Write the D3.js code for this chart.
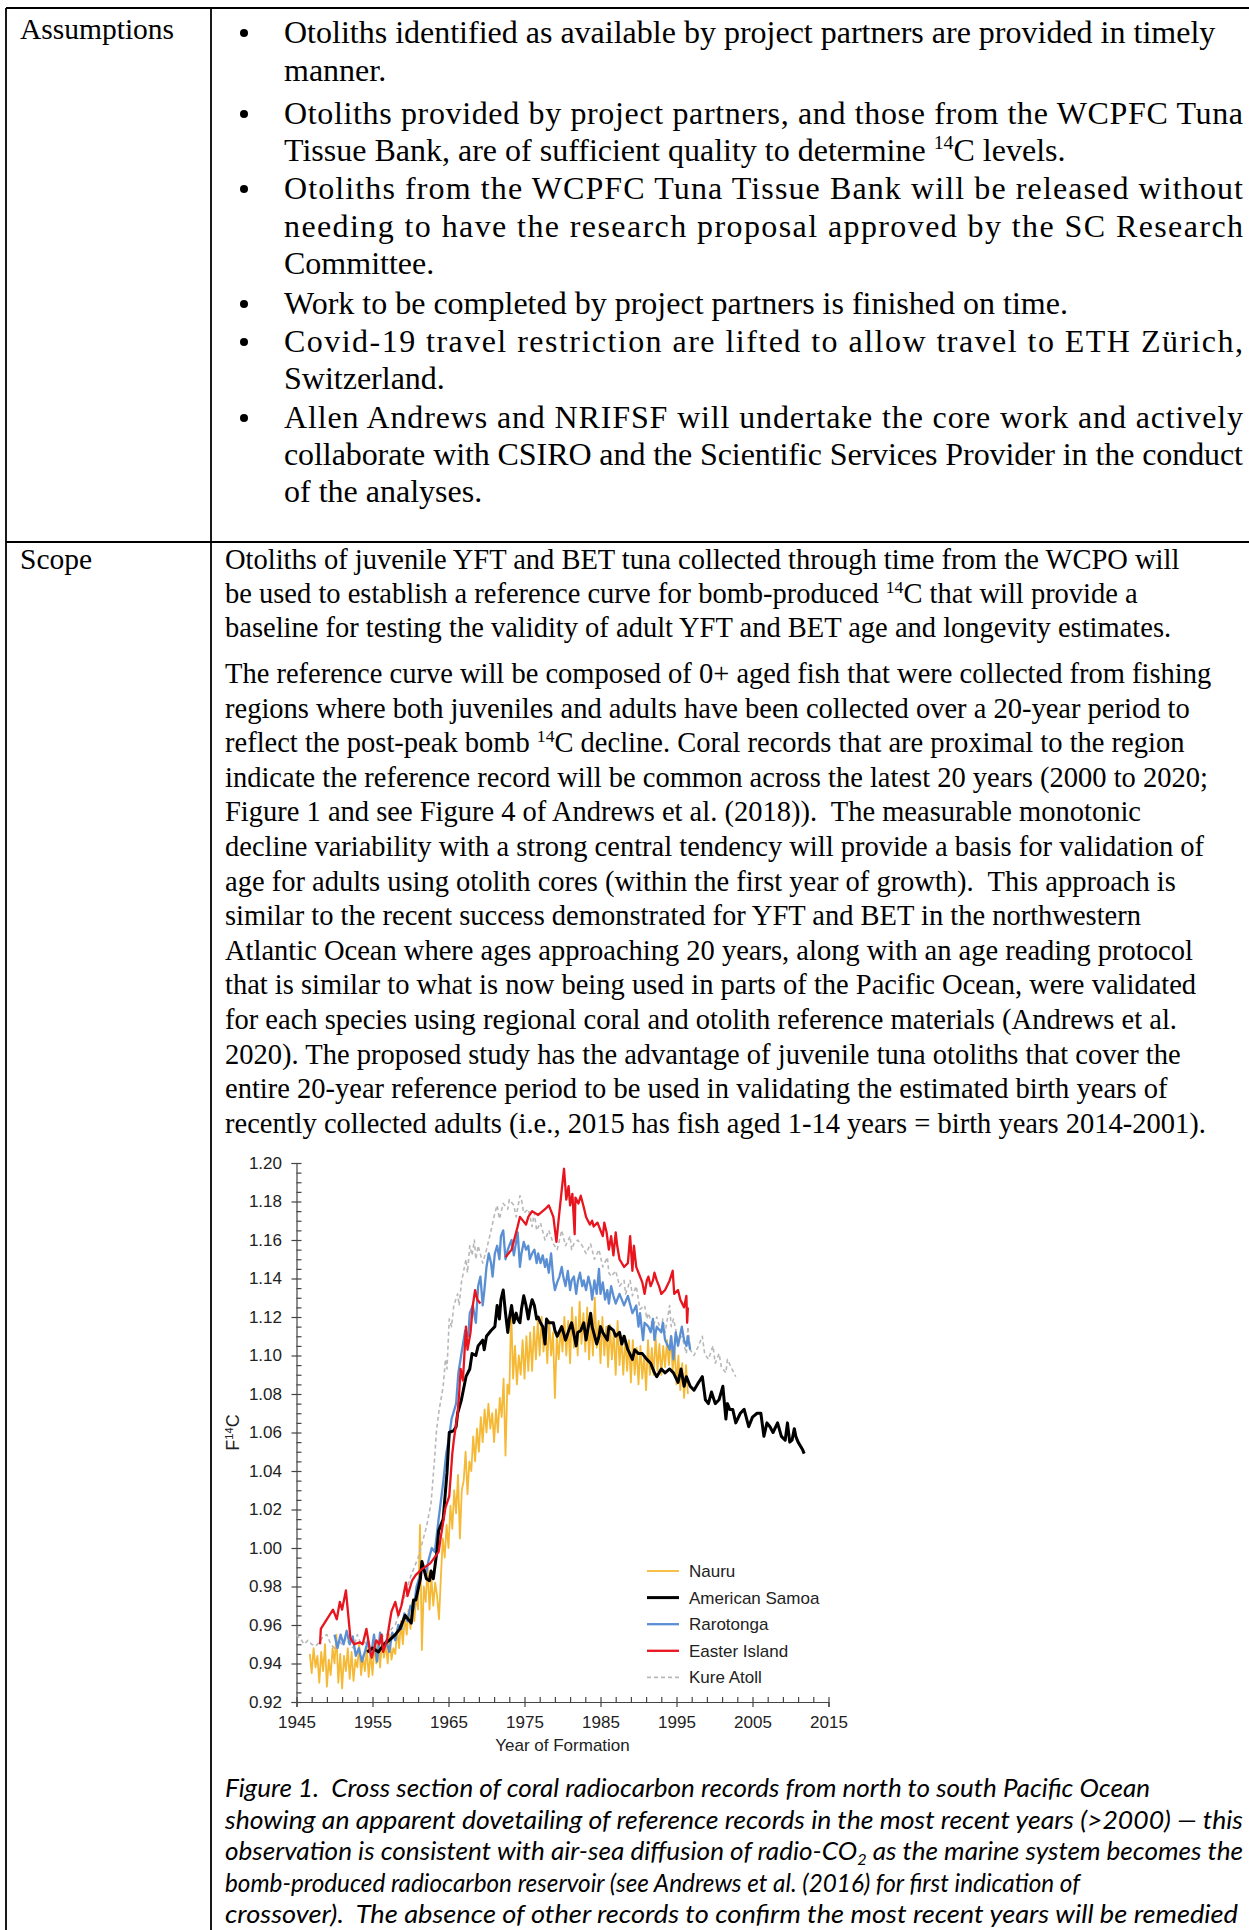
<!DOCTYPE html>
<html>
<head>
<meta charset="utf-8">
<title>Assumptions / Scope - coral radiocarbon</title>
<script src="https://d3js.org/d3.v7.min.js"></script>
<style>
  body { margin: 0; background: #fff; }
  svg text { fill: #000; white-space: pre; }
  .body-text { font-family: "Liberation Serif", "Times New Roman", serif; }
  .caption { font-family: Lato, "Open Sans", sans-serif; font-style: italic; font-size: 25px; }
  .axis text, .chart-label { font-family: "Liberation Sans", Arial, sans-serif; font-size: 17px; fill: #222; }
  .axis path, .axis line { stroke: #444; stroke-width: 1.2px; }
  .rule { stroke: #000; stroke-width: 1.8px; }
</style>
</head>
<body>
<svg id="page" width="1249" height="1930"></svg>
<script>
// ---- text content ----
const assumptionLines = [
  "Otoliths identified as available by project partners are provided in timely",
  "manner.",
  "Otoliths provided by project partners, and those from the WCPFC Tuna",
  "Tissue Bank, are of sufficient quality to determine ^14^C levels.",
  "Otoliths from the WCPFC Tuna Tissue Bank will be released without",
  "needing to have the research proposal approved by the SC Research",
  "Committee.",
  "Work to be completed by project partners is finished on time.",
  "Covid-19 travel restriction are lifted to allow travel to ETH Zürich,",
  "Switzerland.",
  "Allen Andrews and NRIFSF will undertake the core work and actively",
  "collaborate with CSIRO and the Scientific Services Provider in the conduct",
  "of the analyses."
];
const bulletStarts = [0, 2, 4, 7, 8, 10];
const justifiedLines = [2, 4, 5, 8, 10, 11];
const assumptionBaselines = [43, 81, 124, 161, 199, 237, 274, 314, 352, 389, 428, 465, 502];

const scopePara1 = [
  "Otoliths of juvenile YFT and BET tuna collected through time from the WCPO will",
  "be used to establish a reference curve for bomb-produced ^14^C that will provide a",
  "baseline for testing the validity of adult YFT and BET age and longevity estimates."
];
const scopePara2 = [
  "The reference curve will be composed of 0+ aged fish that were collected from fishing",
  "regions where both juveniles and adults have been collected over a 20-year period to",
  "reflect the post-peak bomb ^14^C decline. Coral records that are proximal to the region",
  "indicate the reference record will be common across the latest 20 years (2000 to 2020;",
  "Figure 1 and see Figure 4 of Andrews et al. (2018)).  The measurable monotonic",
  "decline variability with a strong central tendency will provide a basis for validation of",
  "age for adults using otolith cores (within the first year of growth).  This approach is",
  "similar to the recent success demonstrated for YFT and BET in the northwestern",
  "Atlantic Ocean where ages approaching 20 years, along with an age reading protocol",
  "that is similar to what is now being used in parts of the Pacific Ocean, were validated",
  "for each species using regional coral and otolith reference materials (Andrews et al.",
  "2020). The proposed study has the advantage of juvenile tuna otoliths that cover the",
  "entire 20-year reference period to be used in validating the estimated birth years of",
  "recently collected adults (i.e., 2015 has fish aged 1-14 years = birth years 2014-2001)."
];
const captionLines = [
  "Figure 1.  Cross section of coral radiocarbon records from north to south Pacific Ocean",
  "showing an apparent dovetailing of reference records in the most recent years (>2000) \u2014 this",
  "observation is consistent with air-sea diffusion of radio-CO~2~ as the marine system becomes the",
  "bomb-produced radiocarbon reservoir (see Andrews et al. (2016) for first indication of",
  "crossover).  The absence of other records to confirm the most recent years will be remedied"
];
const captionRightEdges = [1150, 1243, 1243, 1080, 1238];

// ---- chart data (year, F14C) ----
const seriesNames = ["Nauru", "American Samoa", "Rarotonga", "Easter Island", "Kure Atoll"];
const xTicks = [1945, 1955, 1965, 1975, 1985, 1995, 2005, 2015];
const yTicks = [0.92, 0.94, 0.96, 0.98, 1.00, 1.02, 1.04, 1.06, 1.08, 1.10, 1.12, 1.14, 1.16, 1.18, 1.20];

// Nauru: quarterly samples starting 1946.75
const nauruStart = 1946.75, nauruStep = 0.25;
const nauruValues = [
  0.945,
  0.935, 0.948, 0.938, 0.944,  0.930, 0.946, 0.936, 0.950,  0.928, 0.942, 0.934, 0.948,
  0.940, 0.955, 0.930, 0.945,  0.927, 0.944, 0.936, 0.948,  0.932, 0.946, 0.931, 0.942,
  0.938, 0.950, 0.934, 0.944,  0.936, 0.948, 0.933, 0.946,  0.934, 0.950, 0.940, 0.952,
  0.938, 0.952, 0.943, 0.950,  0.940, 0.955, 0.942, 0.948,  0.945, 0.958, 0.948, 0.962,
  0.950, 0.965, 0.955, 0.968,  0.958, 0.972, 0.962, 0.975,  0.968, 1.012, 0.947, 0.980,
  0.972, 0.990, 0.968, 0.985,  0.970, 0.982, 0.975, 0.963,  0.985, 1.005, 0.995, 1.012,
  1.000, 1.022, 1.010, 1.030,  1.018, 1.038, 1.005, 1.030,  1.035, 1.050, 1.028, 1.045,
  1.040, 1.058, 1.045, 1.062,  1.050, 1.068, 1.055, 1.072,  1.060, 1.075, 1.062, 1.070,
  1.055, 1.072, 1.060, 1.078,  1.068, 1.088, 1.048, 1.085,  1.080, 1.124, 1.088, 1.105,
  1.085, 1.100, 1.090, 1.108,  1.088, 1.110, 1.092, 1.112,  1.092, 1.115, 1.098, 1.118,
  1.100, 1.120, 1.102, 1.115,  1.096, 1.118, 1.100, 1.112,  1.078, 1.110, 1.098, 1.115,
  1.102, 1.120, 1.100, 1.118,  1.096, 1.125, 1.104, 1.120,  1.100, 1.128, 1.106, 1.122,
  1.102, 1.125, 1.098, 1.120,  1.100, 1.130, 1.104, 1.118,  1.096, 1.120, 1.100, 1.115,
  1.094, 1.116, 1.098, 1.112,  1.090, 1.118, 1.095, 1.110,  1.090, 1.110, 1.092, 1.108,
  1.086, 1.108, 1.090, 1.104,  1.085, 1.105, 1.088, 1.100,  1.082, 1.108, 1.090, 1.104,
  1.090, 1.110, 1.092, 1.106,  1.090, 1.105, 1.094, 1.108,  1.095, 1.110, 1.092, 1.104,
  1.085, 1.100, 1.082, 1.096,  1.078, 1.095, 1.080
];

const americanSamoa = [
  [1954.3,0.946],[1955.0,0.948],[1955.8,0.946],[1956.5,0.950],[1957.2,0.952],[1958.0,0.955],[1958.6,0.958],
  [1959.3,0.965],[1960.1,0.961],[1960.4,0.973],[1960.7,0.973],[1961.3,0.984],[1961.5,0.993],[1962.1,0.984],
  [1962.5,0.983],[1962.7,0.988],[1963.0,0.984],[1963.5,0.999],[1963.7,1.009],[1964.3,1.015],[1964.8,1.039],
  [1965.1,1.060],[1965.7,1.061],[1966.0,1.063],[1966.2,1.070],[1966.7,1.077],[1967.3,1.089],[1967.8,1.093],
  [1968.1,1.101],[1968.6,1.100],[1968.9,1.105],[1969.5,1.108],[1969.7,1.103],[1970.0,1.110],[1970.6,1.113],
  [1971.1,1.115],[1971.4,1.126],[1971.7,1.119],[1971.9,1.129],[1972.2,1.134],[1972.5,1.122],[1972.8,1.112],
  [1973.0,1.119],[1973.3,1.126],[1973.6,1.117],[1973.9,1.122],[1974.1,1.119],[1974.4,1.117],[1974.6,1.124],
  [1974.9,1.131],[1975.2,1.126],[1975.5,1.119],[1975.7,1.124],[1976.0,1.129],[1976.3,1.126],[1976.6,1.119],
  [1976.8,1.120],[1977.1,1.117],[1977.4,1.115],[1977.7,1.106],[1977.9,1.119],[1978.2,1.117],[1978.8,1.117],
  [1979.0,1.113],[1979.3,1.110],[1979.9,1.115],[1980.4,1.108],[1981.0,1.115],[1981.2,1.117],[1981.8,1.105],
  [1982.0,1.112],[1982.4,1.113],[1982.8,1.117],[1983.1,1.108],[1983.7,1.122],[1983.9,1.115],[1984.5,1.106],
  [1984.8,1.110],[1985.0,1.115],[1985.3,1.112],[1985.9,1.108],[1986.1,1.115],[1986.7,1.113],[1987.0,1.110],
  [1987.5,1.112],[1987.8,1.106],[1988.1,1.110],[1988.6,1.103],[1989.2,1.098],[1989.5,1.103],[1990.0,1.101],
  [1990.5,1.101],[1991.1,1.098],[1991.6,1.096],[1992.1,1.091],[1992.4,1.089],[1993.0,1.093],[1993.5,1.091],
  [1994.1,1.093],[1994.6,1.091],[1995.2,1.086],[1995.6,1.093],[1996.0,1.084],[1996.3,1.089],[1996.8,1.084],
  [1997.3,1.082],[1997.9,1.086],[1998.4,1.089],[1998.8,1.077],[1999.2,1.075],[1999.6,1.081],[2000.1,1.075],
  [2000.6,1.077],[2001.1,1.084],[2001.5,1.067],[2001.7,1.075],[2002.0,1.072],[2002.4,1.072],[2002.8,1.065],
  [2003.4,1.070],[2003.9,1.072],[2004.5,1.063],[2005.0,1.068],[2005.6,1.070],[2006.1,1.070],[2006.5,1.058],
  [2006.9,1.065],[2007.3,1.063],[2007.7,1.060],[2008.3,1.065],[2008.8,1.058],[2009.3,1.056],[2009.6,1.065],
  [2009.9,1.055],[2010.2,1.056],[2010.5,1.062],[2010.7,1.058],[2011.0,1.055],[2011.6,1.051],[2011.8,1.049]
];

const rarotonga = [
  [1950.0,0.955],[1950.4,0.948],[1950.8,0.955],[1951.2,0.950],[1951.6,0.957],[1952.0,0.950],[1952.4,0.954],
  [1952.8,0.944],[1953.2,0.948],[1953.6,0.941],[1954.0,0.946],[1954.4,0.952],[1954.8,0.944],[1955.2,0.955],
  [1955.6,0.941],[1956.0,0.956],[1956.4,0.948],[1956.8,0.952],[1957.2,0.946],[1957.6,0.956],[1958.0,0.952],
  [1958.4,0.960],[1958.8,0.958],[1959.2,0.966],[1959.6,0.962],[1960.0,0.970],[1960.4,0.968],[1960.8,0.980],
  [1961.2,0.985],[1961.6,0.990],[1962.0,0.986],[1962.4,0.994],[1962.8,1.000],[1963.2,0.998],[1963.7,1.015],
  [1964.3,1.034],[1964.7,1.049],[1965.1,1.058],[1965.4,1.067],[1966.0,1.075],[1966.3,1.091],[1966.7,1.101],
  [1967.2,1.113],[1967.6,1.110],[1967.8,1.122],[1968.2,1.126],[1968.6,1.117],[1968.9,1.136],[1969.2,1.141],
  [1969.5,1.126],[1969.7,1.133],[1970.0,1.146],[1970.3,1.153],[1970.6,1.148],[1970.8,1.141],[1971.1,1.153],
  [1971.4,1.157],[1971.7,1.150],[1971.9,1.162],[1972.2,1.165],[1972.5,1.150],[1972.8,1.155],[1973.0,1.157],
  [1973.3,1.160],[1973.6,1.152],[1973.9,1.159],[1974.1,1.164],[1974.4,1.146],[1974.6,1.153],[1974.9,1.159],
  [1975.2,1.155],[1975.5,1.157],[1975.7,1.150],[1976.0,1.153],[1976.3,1.155],[1976.6,1.148],[1976.8,1.153],
  [1977.1,1.148],[1977.4,1.152],[1977.7,1.146],[1977.9,1.150],[1978.2,1.143],[1978.5,1.153],[1978.8,1.139],
  [1979.0,1.134],[1979.3,1.138],[1979.6,1.141],[1979.9,1.146],[1980.1,1.141],[1980.4,1.136],[1980.7,1.144],
  [1981.0,1.134],[1981.2,1.139],[1981.5,1.141],[1981.8,1.132],[1982.0,1.138],[1982.3,1.143],[1982.6,1.136],
  [1982.8,1.139],[1983.1,1.134],[1983.4,1.141],[1983.7,1.136],[1983.9,1.129],[1984.2,1.139],[1984.5,1.132],
  [1984.8,1.145],[1985.0,1.132],[1985.3,1.138],[1985.6,1.129],[1985.9,1.134],[1986.1,1.127],[1986.4,1.136],
  [1986.7,1.131],[1987.0,1.127],[1987.5,1.132],[1988.1,1.126],[1988.6,1.131],[1989.2,1.122],[1989.7,1.126],
  [1990.0,1.115],[1990.2,1.122],[1990.6,1.108],[1990.8,1.117],[1991.3,1.115],[1991.6,1.112],[1991.9,1.119],
  [1992.1,1.108],[1992.4,1.115],[1993.0,1.112],[1993.2,1.117],[1993.5,1.108],[1994.1,1.103],[1994.3,1.110],
  [1994.6,1.098],[1994.9,1.112],[1995.2,1.105],[1995.7,1.115],[1996.0,1.108],[1996.3,1.105],[1996.5,1.110],
  [1996.8,1.103]
];

const easterIsland = [
  [1948.1,0.950],[1948.2,0.958],[1949.8,0.968],[1950.3,0.963],[1950.7,0.972],[1951.0,0.968],[1951.5,0.978],
  [1952.1,0.953],[1952.6,0.950],[1953.3,0.951],[1953.7,0.950],[1954.2,0.958],[1954.7,0.946],[1954.9,0.943],
  [1955.5,0.952],[1955.9,0.950],[1956.2,0.955],[1956.4,0.946],[1956.9,0.952],[1957.2,0.960],[1957.5,0.967],
  [1958.0,0.972],[1958.4,0.965],[1958.8,0.970],[1959.4,0.982],[1959.6,0.975],[1960.2,0.983],[1960.7,0.986],
  [1961.5,0.989],[1962.6,0.992],[1963.7,0.998],[1964.0,1.006],[1964.6,1.021],[1965.1,1.027],[1965.5,1.049],
  [1965.7,1.056],[1966.2,1.070],[1966.4,1.080],[1966.6,1.093],[1966.9,1.087],[1967.3,1.115],[1967.5,1.103],
  [1967.9,1.112],[1968.2,1.126],[1968.5,1.134],[1968.8,1.129],[1969.2,1.127],[1970.8,null],
  [1972.5,1.151],[1973.3,1.155],[1974.1,1.167],[1974.4,1.172],[1975.2,1.168],[1975.5,1.172],[1976.0,1.175],
  [1976.8,1.173],[1977.7,1.176],[1978.2,1.178],[1978.8,1.172],[1979.2,1.159],[1979.5,1.171],[1979.9,1.186],
  [1980.2,1.197],[1980.5,1.181],[1980.8,1.188],[1981.0,1.178],[1981.3,1.184],[1981.6,1.163],[1981.7,1.182],
  [1982.1,1.179],[1982.4,1.183],[1982.8,1.177],[1983.1,1.172],[1983.6,1.168],[1983.9,1.170],[1984.1,1.167],
  [1984.6,1.169],[1985.0,1.165],[1985.3,1.162],[1985.5,1.169],[1985.8,1.164],[1986.1,1.155],[1986.4,1.162],
  [1986.7,1.152],[1987.0,1.164],[1987.2,1.157],[1987.5,1.150],[1988.1,1.146],[1988.6,1.148],[1988.9,1.162],
  [1989.2,1.144],[1989.4,1.157],[1989.7,1.146],[1990.0,1.143],[1990.5,1.138],[1990.8,1.132],[1991.1,1.139],
  [1991.3,1.141],[1991.6,1.136],[1991.9,1.139],[1992.1,1.143],[1992.4,1.139],[1992.7,1.136],[1993.0,1.132],
  [1993.5,1.134],[1994.1,1.139],[1994.5,1.144],[1994.7,1.132],[1995.2,1.134],[1995.5,1.129],[1996.0,1.125],
  [1996.3,1.131],[1996.4,1.117],[1996.5,1.125]
];

const kureAtoll = [
  [1945.0,0.955],[1945.5,0.953],[1946.0,0.950],[1946.5,0.952],[1947.0,0.950],[1947.5,0.949],[1948.0,0.951],
  [1948.5,0.954],[1949.0,0.955],[1949.5,0.950],[1950.0,0.948],[1950.5,0.952],[1951.0,0.950],[1951.5,0.953],
  [1952.0,0.950],[1952.5,0.948],[1953.0,0.955],[1953.5,0.950],[1954.0,0.951],[1954.5,0.948],[1955.0,0.947],
  [1955.5,0.950],[1956.0,0.952],[1956.5,0.955],[1957.0,0.955],[1957.5,0.958],[1958.0,0.960],[1958.5,0.966],
  [1959.0,0.972],[1959.5,0.978],[1960.0,0.985],[1960.5,0.990],[1961.0,0.995],[1961.5,1.002],[1962.1,1.011],
  [1962.7,1.023],[1963.2,1.048],[1963.4,1.060],[1963.7,1.070],[1964.3,1.084],[1964.6,1.098],[1964.8,1.093],
  [1965.1,1.119],[1965.4,1.115],[1965.7,1.126],[1966.2,1.132],[1966.4,1.126],[1966.7,1.138],[1967.3,1.150],
  [1967.5,1.143],[1967.8,1.157],[1968.1,1.152],[1968.4,1.160],[1968.6,1.150],[1968.9,1.157],[1969.5,1.148],
  [1970.0,1.155],[1970.6,1.165],[1971.1,1.174],[1971.4,1.178],[1971.7,1.171],[1972.2,1.179],[1972.8,1.176],
  [1973.0,1.181],[1973.6,1.178],[1973.9,1.172],[1974.4,1.183],[1974.6,1.181],[1974.9,1.174],[1975.5,1.176],
  [1976.0,1.167],[1976.3,1.174],[1976.6,1.165],[1977.1,1.169],[1977.7,1.160],[1978.2,1.165],[1978.8,1.158],
  [1979.3,1.155],[1979.9,1.165],[1980.4,1.157],[1981.0,1.162],[1981.2,1.155],[1981.5,1.158],[1982.0,1.160],
  [1982.6,1.157],[1983.1,1.153],[1983.7,1.158],[1984.2,1.150],[1984.8,1.155],[1985.3,1.146],[1985.9,1.151],
  [1986.1,1.143],[1986.4,1.141],[1987.0,1.144],[1987.5,1.136],[1988.1,1.139],[1988.3,1.132],[1988.9,1.139],
  [1989.2,1.131],[1989.7,1.136],[1990.2,1.124],[1990.8,1.126],[1991.1,1.119],[1991.3,1.122],[1991.9,1.115],
  [1992.4,1.120],[1993.0,1.112],[1993.2,1.119],[1993.5,1.112],[1994.1,1.126],[1994.3,1.115],[1994.6,1.119],
  [1995.2,1.108],[1995.7,1.110],[1996.3,1.101],[1996.5,1.115],[1996.8,1.103],[1997.3,1.100],[1997.9,1.105],
  [1998.4,1.110],[1998.7,1.101],[1999.2,1.098],[1999.8,1.105],[2000.1,1.096],[2000.6,1.101],[2000.9,1.094],
  [2001.5,1.091],[2001.7,1.098],[2002.3,1.093],[2002.8,1.089]
];

const seriesColors = ["#f5b935", "#000000", "#5b8fd4", "#e8141e", "#b8b8b8"];

// ---- page ----
const svg = d3.select("#page");
const page = { left: 6, colX: 211, top: 8, rowY: 542, right: 1249, bottom: 1930 };

svg.append("line").attr("class", "rule").attr("x1", page.left).attr("x2", page.right).attr("y1", page.top).attr("y2", page.top);
svg.append("line").attr("class", "rule").attr("x1", page.left).attr("x2", page.right).attr("y1", page.rowY).attr("y2", page.rowY);
svg.append("line").attr("class", "rule").attr("x1", page.left).attr("x2", page.left).attr("y1", page.top).attr("y2", page.bottom);
svg.append("line").attr("class", "rule").attr("x1", page.colX).attr("x2", page.colX).attr("y1", page.top).attr("y2", page.bottom);

// write a line with ^sup^ and ~sub~ markup
function rich(sel, str, fs) {
  const parts = str.split(/(\^[^\^]+\^|~[^~]+~)/).filter(s => s.length);
  let shift = 0;
  parts.forEach(p => {
    let target = 0, size = fs, s = p;
    if (p[0] === "^") { target = -fs * 0.36; size = fs * 0.62; s = p.slice(1, -1); }
    else if (p[0] === "~") { target = fs * 0.2; size = fs * 0.62; s = p.slice(1, -1); }
    sel.append("tspan").attr("dy", target - shift).attr("font-size", size).text(s);
    shift = target;
  });
}

const labelSize = 29.5, bulletSize = 32, scopeSize = 28.5;
svg.append("text").attr("class", "body-text").attr("font-size", labelSize).attr("x", 20).attr("y", 39).text("Assumptions");
svg.append("text").attr("class", "body-text").attr("font-size", labelSize).attr("x", 20).attr("y", 569).text("Scope");

// assumptions bullets
const bulletTextX = 284, textRight = 1243;
assumptionLines.forEach((line, i) => {
  const y = assumptionBaselines[i];
  if (bulletStarts.includes(i)) {
    svg.append("circle").attr("cx", 244).attr("cy", y - 10).attr("r", 4).attr("fill", "#000");
  }
  const t = svg.append("text").attr("class", "body-text").attr("font-size", bulletSize)
    .attr("x", bulletTextX).attr("y", y);
  rich(t, line, bulletSize);
  if (justifiedLines.includes(i)) {
    t.attr("textLength", textRight - bulletTextX).attr("lengthAdjust", "spacing");
  }
});

// scope paragraphs
const scopeX = 225;
scopePara1.forEach((line, i) => {
  const t = svg.append("text").attr("class", "body-text").attr("font-size", scopeSize)
    .attr("x", scopeX).attr("y", 569 + i * 34);
  rich(t, line, scopeSize);
});
scopePara2.forEach((line, i) => {
  const t = svg.append("text").attr("class", "body-text").attr("font-size", scopeSize)
    .attr("x", scopeX).attr("y", 683 + i * 34.6);
  rich(t, line, scopeSize);
});

// ---- chart ----
const x = d3.scaleLinear().domain([1945, 2015]).range([296.5, 828.5]);
const y = d3.scaleLinear().domain([0.92, 1.20]).range([1702, 1163]);

const chart = svg.append("g");

const xMinor = d3.range(1947, 2015, 2).filter(d => !xTicks.includes(d));
const yMinor = d3.range(0, 57).map(i => 0.92 + i * 0.005).filter(v => !yTicks.some(t => Math.abs(t - v) < 1e-6));

const xAxis = chart.append("g").attr("class", "axis").attr("transform", `translate(0,${y(0.92)})`)
  .call(d3.axisBottom(x).tickValues(xTicks).tickSizeOuter(0).tickSize(5).tickPadding(9).tickFormat(d3.format("d")));
xAxis.selectAll(".tick line").attr("y1", -5);
chart.append("g").attr("class", "axis").attr("transform", `translate(0,${y(0.92)})`)
  .call(d3.axisTop(x).tickValues(xMinor).tickSize(5).tickFormat(""))
  .call(g => g.select(".domain").remove());

const yAxis = chart.append("g").attr("class", "axis").attr("transform", `translate(${x(1945)},0)`)
  .call(d3.axisLeft(y).tickValues(yTicks).tickSizeOuter(0).tickSize(5).tickPadding(9.5).tickFormat(d3.format(".2f")));
yAxis.selectAll(".tick line").attr("x1", 5);
chart.append("g").attr("class", "axis").attr("transform", `translate(${x(1945)},0)`)
  .call(d3.axisRight(y).tickValues(yMinor).tickSize(5).tickFormat(""))
  .call(g => g.select(".domain").remove());

chart.append("text").attr("class", "chart-label").attr("x", x(1980)).attr("y", 1751)
  .attr("text-anchor", "middle").text("Year of Formation");
const yTitle = chart.append("text").attr("class", "chart-label").attr("font-size", 18)
  .attr("transform", `translate(239,${y(1.06)}) rotate(-90)`).attr("text-anchor", "middle");
rich(yTitle, "F^14^C", 18);

const line = d3.line().defined(d => d[1] != null).x(d => x(d[0])).y(d => y(d[1]));
const nauru = nauruValues.map((v, i) => [nauruStart + i * nauruStep, v]);
const seriesData = [nauru, americanSamoa, rarotonga, easterIsland, kureAtoll];
const widths = [1.8, 3.0, 2.3, 2.3, 1.6];
const drawOrder = [0, 4, 2, 1, 3];

drawOrder.forEach(k => {
  chart.append("path").datum(seriesData[k])
    .attr("fill", "none").attr("stroke", seriesColors[k]).attr("stroke-width", widths[k])
    .attr("stroke-linejoin", "round")
    .attr("stroke-dasharray", k === 4 ? "4,3" : null)
    .attr("d", line);
});

// legend
const legend = chart.append("g");
seriesNames.forEach((name, i) => {
  const ly = 1571 + i * 26.6;
  legend.append("line").attr("x1", 647).attr("x2", 679).attr("y1", ly).attr("y2", ly)
    .attr("stroke", seriesColors[i]).attr("stroke-width", widths[i])
    .attr("stroke-dasharray", i === 4 ? "4,3" : null);
  legend.append("text").attr("class", "chart-label").attr("font-size", 17.5)
    .attr("x", 689).attr("y", ly + 6).text(name);
});

// ---- caption ----
const captionX = 225;
captionLines.forEach((lineText, i) => {
  const t = svg.append("text").attr("class", "caption").attr("x", captionX).attr("y", 1797 + i * 31.5);
  rich(t, lineText, 25);
  t.attr("textLength", captionRightEdges[i] - captionX).attr("lengthAdjust", "spacingAndGlyphs");
});
</script>
</body>
</html>
